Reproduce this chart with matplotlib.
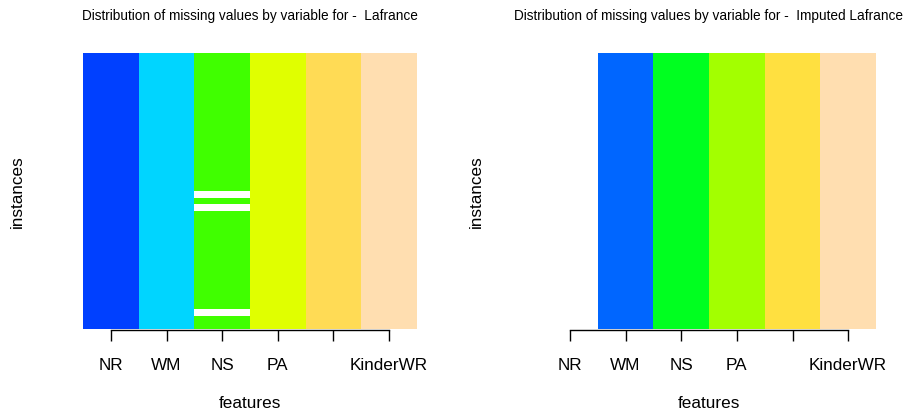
import numpy as np
import matplotlib
matplotlib.use("Agg")
import matplotlib.pyplot as plt
from matplotlib.colors import to_rgb

plt.rcParams['font.family'] = ['Liberation Sans', 'DejaVu Sans']

# datos
features = ["NR", "WM", "NS", "PA", "", "KinderWR"]
n_instances = 42
# filas con NA en NS (contando desde arriba)
missing_ns = [21, 23, 39]

colors_raw = ["#0040FF", "#00D5FF", "#40FF00", "#E0FF00", "#FFDB55", "#FFDEB0"]
colors_imp = ["#FFFFFF", "#0066FF", "#00FF20", "#A3FF00", "#FFE040", "#FFDEB0"]

titles = ["Distribution of missing values by variable for -  Lafrance",
          "Distribution of missing values by variable for -  Imputed Lafrance"]


def build_image(cols, missing=None):
    img = np.ones((n_instances, len(cols), 3))
    for j, c in enumerate(cols):
        img[:, j, :] = to_rgb(c)
    if missing:
        for col, rows in missing.items():
            for r in rows:
                img[r, col, :] = 1.0
    return img


fig = plt.figure(figsize=(9.07, 4.14), dpi=100)
W, H = 907, 414
panels = [
    (83, build_image(colors_raw, {2: missing_ns}), titles[0]),
    (542, build_image(colors_imp), titles[1]),
]

for left_px, img, title in panels:
    ax = fig.add_axes([left_px / W, (H - 330) / H, 334 / W, 276 / H])
    x = np.arange(1, len(features) + 1)
    ax.imshow(img, extent=(0.5, len(features) + 0.5, n_instances, 0),
              aspect='auto', interpolation='nearest')
    ax.set_xlim(0.5, len(features) + 0.5)
    ax.set_ylim(n_instances, 0)
    for s in ['top', 'right', 'left']:
        ax.spines[s].set_visible(False)
    ax.spines['bottom'].set_bounds(1, len(features))
    ax.spines['bottom'].set_position(('outward', 1))
    ax.spines['bottom'].set_linewidth(1)
    ax.set_yticks([])
    ax.set_xticks(x)
    ax.set_xticklabels(features, fontsize=12.3)
    ax.tick_params(axis='x', length=8, width=1, pad=11, direction='out')
    ax.text(0.5, 1 + (54 - 16) / 276, title, transform=ax.transAxes,
            ha='center', va='center', fontsize=9.8)
    ax.text(0.5, -(404 - 330) / 276, "features", transform=ax.transAxes,
            ha='center', va='center', fontsize=12.3)
    ax.text(-(83 - 17) / 334, (330 - 192) / 276, "instances", transform=ax.transAxes,
            ha='center', va='center', rotation=90, fontsize=12.3)

fig.savefig("out.png", dpi=100)
